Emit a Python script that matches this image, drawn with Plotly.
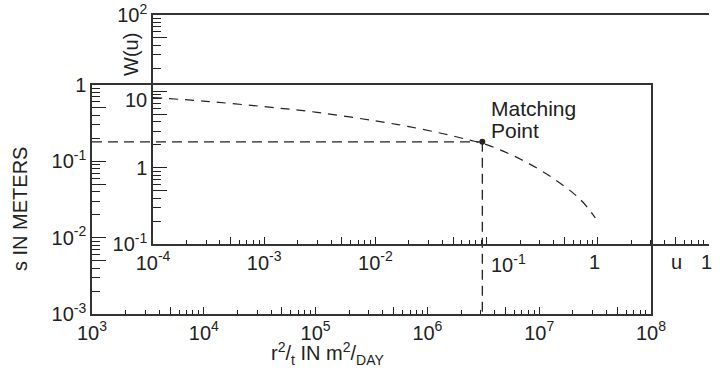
import math
import plotly.graph_objects as go

# ---------------- data ----------------
# type curve (inner axes): u vs W(u)
u_vals = [1e-4, 3e-4, 1e-3, 3e-3, 1e-2, 2e-2, 4e-2, 7e-2, 0.1, 0.2, 0.4, 0.7, 0.95]
w_vals = [8.3, 7.4, 6.3, 5.3, 4.1, 3.45, 2.8, 2.3, 2.0, 1.3, 0.72, 0.38, 0.22]

# matching point (outer axes)
match_r2t = 3.1e6
match_s = 0.18

outer_x_decades = [1e3, 1e4, 1e5, 1e6, 1e7, 1e8]
outer_x_labels = ["10<sup>3</sup>", "10<sup>4</sup>", "10<sup>5</sup>",
                  "10<sup>6</sup>", "10<sup>7</sup>", "10<sup>8</sup>"]
outer_y_decades = [1e-3, 1e-2, 1e-1, 1]
outer_y_labels = ["10<sup>-3</sup>", "10<sup>-2</sup>", "10<sup>-1</sup>", "1"]
inner_x_decades = [1e-4, 1e-3, 1e-2, 1e-1, 1, 10]
inner_x_labels = ["10<sup>-4</sup>", "10<sup>-3</sup>", "10<sup>-2</sup>", "", "", ""]
inner_y_decades = [0.1, 1, 10, 100]
inner_y_labels = ["10<sup>-1</sup>", "1", "", "10<sup>2</sup>"]

# ---------------- helpers ----------------
W, H = 722, 372
FONT = "Liberation Sans, Arial, Helvetica, sans-serif"
INK = "#222222"
FS = 20


def px_x(p):
    return p / W


def px_y(p):
    return (H - p) / H


def tick_sets(decades):
    majors = []
    minors = []
    for d in decades[:-1]:
        majors.append(5 * d)
        for m in (2, 3, 4, 6, 7, 8, 9):
            minors.append(m * d)
    return majors, minors


def log_axis(decades, labels, domain, ticklen, minorlen, **kw):
    fives, minors = tick_sets(decades)
    return dict(
        type="log",
        range=[math.log10(decades[0]), math.log10(decades[-1])],
        domain=domain,
        automargin=False,
        tickmode="array",
        tickvals=decades + fives,
        ticktext=labels + [""] * len(fives),
        ticks="inside",
        ticklen=ticklen,
        tickwidth=1,
        tickcolor=INK,
        minor=dict(tickmode="array", tickvals=minors, ticks="inside",
                   ticklen=minorlen, tickwidth=1, tickcolor=INK,
                   showgrid=False),
        showgrid=False,
        zeroline=False,
        showline=True,
        linecolor="#333333",
        linewidth=1.5,
        tickfont=dict(family=FONT, size=FS, color=INK),
        fixedrange=True,
        **kw,
    )


fig = go.Figure()

dash_style = "10px,6px"

# matching lines on outer axes
fig.add_trace(go.Scatter(x=[outer_x_decades[0], match_r2t], y=[match_s, match_s],
                         mode="lines", line=dict(color=INK, width=1.3, dash=dash_style),
                         xaxis="x", yaxis="y", showlegend=False, hoverinfo="skip"))
fig.add_trace(go.Scatter(x=[match_r2t, match_r2t], y=[match_s, outer_y_decades[0]],
                         mode="lines", line=dict(color=INK, width=1.3, dash=dash_style),
                         xaxis="x", yaxis="y", showlegend=False, hoverinfo="skip"))
fig.add_trace(go.Scatter(x=[match_r2t], y=[match_s], mode="markers",
                         marker=dict(color=INK, size=6),
                         xaxis="x", yaxis="y", showlegend=False, hoverinfo="skip"))

# type curve on inner axes
fig.add_trace(go.Scatter(x=u_vals, y=w_vals, mode="lines", line_shape="spline",
                         line=dict(color=INK, width=1.2, dash="9px,7px"),
                         xaxis="x2", yaxis="y2", showlegend=False, hoverinfo="skip"))

fig.update_layout(
    width=W, height=H,
    margin=dict(l=0, r=0, t=0, b=0, pad=0, autoexpand=False),
    paper_bgcolor="white",
    plot_bgcolor="rgba(0,0,0,0)",
    hovermode=False,
    xaxis=log_axis(outer_x_decades, outer_x_labels, [px_x(92), px_x(651)], 7, 4,
                   anchor="y", mirror=True),
    yaxis=log_axis(outer_y_decades, outer_y_labels, [px_y(314), px_y(85)], 14, 8,
                   anchor="x", mirror=True),
    xaxis2=log_axis(inner_x_decades, inner_x_labels, [px_x(153), px_x(709)], 7, 4,
                    anchor="y2", mirror=True),
    yaxis2=log_axis(inner_y_decades, inner_y_labels, [px_y(244), px_y(15)], 14, 8,
                    anchor="x2", mirror=False),
)

ann_font = dict(family=FONT, size=FS, color=INK)
big_font = dict(family=FONT, size=21, color=INK)
annotations = [
    # shifted inner tick labels
    dict(x=px_x(508), y=px_y(249), text="10<sup>-1</sup>", xanchor="center", yanchor="top"),
    dict(x=px_x(594), y=px_y(249), text="1", xanchor="center", yanchor="top"),
    dict(x=px_x(149), y=px_y(100), text="10", xanchor="right", yanchor="middle"),
    dict(x=px_x(676), y=px_y(249), text="u", xanchor="center", yanchor="top"),
    dict(x=px_x(706), y=px_y(249), text="1", xanchor="center", yanchor="top"),
    # titles
    dict(x=px_x(20), y=px_y(209), text="s IN METERS", textangle=-90,
         xanchor="center", yanchor="middle"),
    dict(x=px_x(131), y=px_y(55), text="W(u)", textangle=-90,
         xanchor="center", yanchor="middle"),
    dict(x=px_x(327), y=px_y(353), text="r<sup>2</sup>/<sub>t</sub> IN m<sup>2</sup>/<sub>DAY</sub>",
         xanchor="center", yanchor="middle"),
    dict(x=px_x(489), y=px_y(109), text="Matching", xanchor="left", yanchor="middle",
         font=big_font),
    dict(x=px_x(489), y=px_y(130), text="Point", xanchor="left", yanchor="middle",
         font=big_font),
]
for a in annotations:
    a.setdefault("font", ann_font)
    a.update(xref="paper", yref="paper", showarrow=False)
fig.update_layout(annotations=annotations)

fig.write_html("out.html",
               config={"displayModeBar": False},
               post_script="document.body.style.margin='0';document.body.style.overflow='hidden';")
